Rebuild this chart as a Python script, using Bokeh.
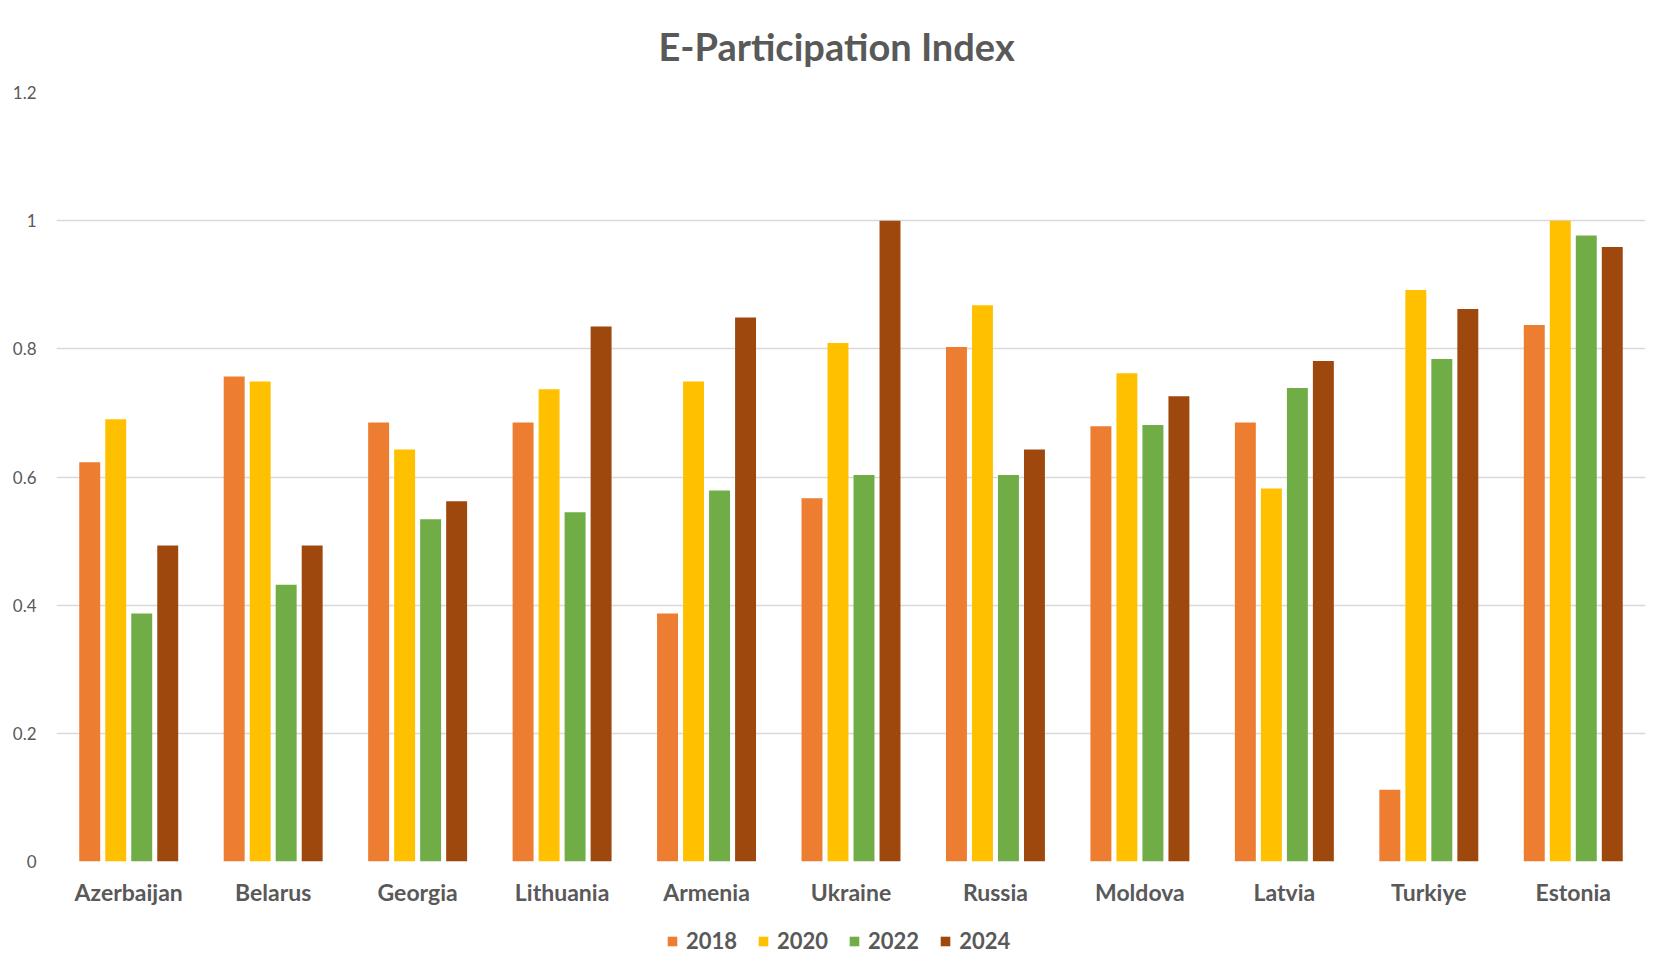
from bokeh.plotting import figure
from bokeh.layouts import column
from bokeh.models import FactorRange, Range1d, FixedTicker, Legend, LegendItem, ColumnDataSource
from bokeh.transform import dodge
from bokeh.embed import file_html
from bokeh.resources import INLINE

countries = ["Azerbaijan", "Belarus", "Georgia", "Lithuania", "Armenia", "Ukraine",
             "Russia", "Moldova", "Latvia", "Turkiye", "Estonia"]
years = ["2018", "2020", "2022", "2024"]
v2018 = [0.623, 0.757, 0.685, 0.685, 0.387, 0.567, 0.803, 0.679, 0.685, 0.112, 0.837]
v2020 = [0.690, 0.749, 0.643, 0.737, 0.749, 0.809, 0.868, 0.762, 0.582, 0.892, 1.000]
v2022 = [0.387, 0.432, 0.534, 0.545, 0.579, 0.603, 0.603, 0.681, 0.739, 0.784, 0.977]
v2024 = [0.493, 0.493, 0.562, 0.835, 0.849, 1.000, 0.643, 0.726, 0.781, 0.862, 0.959]
colors = ["#ED7D31", "#FFC000", "#70AD47", "#9E480E"]
y_ticks = [0, 0.2, 0.4, 0.6, 0.8, 1.0, 1.2]
y_tick_labels = ["0", "0.2", "0.4", "0.6", "0.8", "1", "1.2"]

FONT = "Lato"
TEXT = "#595959"

source = ColumnDataSource(data={"country": countries, "2018": v2018, "2020": v2020,
                                "2022": v2022, "2024": v2024})

p = figure(x_range=FactorRange(*countries), y_range=Range1d(0, 1.2),
           width=1652, height=914, output_backend="svg", toolbar_location=None,
           min_border_left=56, min_border_right=7, min_border_top=92, min_border_bottom=53)

p.title.text = "E-Participation Index"
p.title.align = "left"
p.title.offset = 602
p.title.vertical_align = "top"
p.title.text_font = FONT
p.title.text_font_size = "38px"
p.title.text_font_style = "bold"
p.title.text_color = TEXT
p.title.standoff = 44

offsets = [-0.27, -0.09, 0.09, 0.27]
for yr, off, col in zip(years, offsets, colors):
    p.vbar(x=dodge("country", off, range=p.x_range), top=yr, width=0.145,
           source=source, fill_color=col, line_color=None)

p.outline_line_color = None
p.xgrid.visible = False
p.ygrid.ticker = FixedTicker(ticks=y_ticks)
p.ygrid.grid_line_color = "#D9D9D9"
p.ygrid.grid_line_width = 1.3

p.yaxis.ticker = FixedTicker(ticks=y_ticks)
p.yaxis.major_label_overrides = {t: l for t, l in zip(y_ticks, y_tick_labels)}
p.yaxis.axis_line_color = None
p.yaxis.major_tick_line_color = None
p.yaxis.minor_tick_line_color = None
p.yaxis.major_tick_out = 0
p.yaxis.major_label_standoff = 20
p.yaxis.major_label_text_font = FONT
p.yaxis.major_label_text_font_size = "17px"
p.yaxis.major_label_text_color = TEXT

p.xaxis.axis_line_color = None
p.xaxis.major_tick_line_color = None
p.xaxis.minor_tick_line_color = None
p.xaxis.major_tick_out = 0
p.xaxis.major_label_standoff = 16
p.xaxis.major_label_text_font = FONT
p.xaxis.major_label_text_font_size = "23px"
p.xaxis.major_label_text_font_style = "bold"
p.xaxis.major_label_text_color = TEXT

# legend strip below the chart
lf = figure(x_range=p.x_range, y_range=Range1d(0, 1), width=1652, height=58,
            output_backend="svg", toolbar_location=None,
            x_axis_location=None, y_axis_location=None, min_border=0)
lf.outline_line_color = None
lf.grid.visible = False
items = []
for yr, off, col in zip(years, offsets, colors):
    r = lf.vbar(x=dodge("country", off, range=lf.x_range), top=yr, width=0.145,
                source=source, fill_color=col, line_color=None, visible=False)
    items.append(LegendItem(label=yr, renderers=[r]))

legend = Legend(items=items, orientation="horizontal", location=(610, 18),
                glyph_width=12, glyph_height=12, label_standoff=8, spacing=20,
                label_text_font=FONT, label_text_font_size="22px",
                label_text_font_style="bold", label_text_color=TEXT,
                border_line_color=None, background_fill_alpha=0, margin=0, padding=8)
lf.add_layout(legend)

open("out.html", "w").write(file_html(column(p, lf), INLINE))
